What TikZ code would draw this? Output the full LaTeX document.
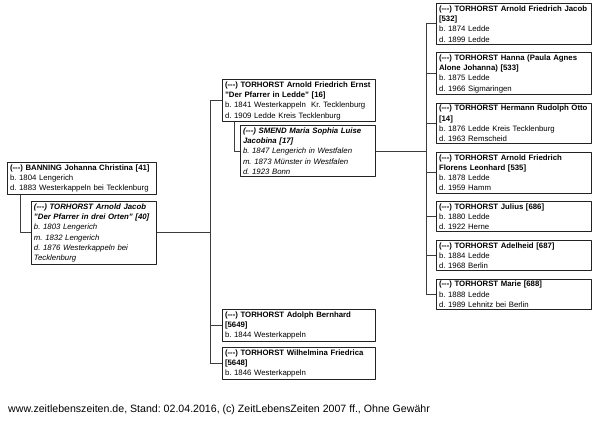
\documentclass[tikz,border=0pt]{standalone}
\usepackage{fontspec}
\setmainfont{Liberation Sans}
\usepackage{xcolor}
\usepackage{tikz}
\usetikzlibrary{positioning}
\definecolor{frm}{RGB}{35,35,35}
\definecolor{lnk}{RGB}{60,60,60}
\newcommand{\unk}{(-{}-{}-)}
\frenchspacing

\begin{document}
\begin{tikzpicture}[x=1pt,y=-1pt,line join=round,
  person/.style={draw=frm,line width=1pt,anchor=north west,inner xsep=2.5pt,inner ysep=2pt,align=left,text width=#1,font=\fontsize{7.8}{10.3}\selectfont},
  spouse/.style={person=#1,font=\fontsize{7.8}{10.3}\selectfont\itshape},
  link/.style={draw=lnk,line width=0.8pt}]
  \useasboundingbox (0,0) rectangle (600,422);
  % parents
  \node[person=144pt] (banning) at (7,162) {\textbf{\unk{} BANNING Johanna Christina [41]}\\b. 1804 Lengerich\\d. 1883 Westerkappeln bei Tecklenburg};
  \node[spouse=120pt] (arnoldJ) at (31,201) {\textbf{\unk{} TORHORST Arnold Jacob}\\\textbf{"Der Pfarrer in drei Orten" [40]}\\b. 1803 Lengerich\\m. 1832 Lengerich\\d. 1876 Westerkappeln bei\\Tecklenburg};
  % children
  \node[person=148pt] (ernst) at (222,79) {\textbf{\unk{} TORHORST Arnold Friedrich Ernst}\\\textbf{"Der Pfarrer in Ledde" [16]}\\b. 1841 Westerkappeln\ \ Kr. Tecklenburg\\d. 1909 Ledde Kreis Tecklenburg};
  \node[spouse=130pt] (smend) at (240,125) {\textbf{\unk{} SMEND Maria Sophia Luise}\\\textbf{Jacobina [17]}\\b. 1847 Lengerich in Westfalen\\m. 1873 Münster in Westfalen\\d. 1923 Bonn};
  \node[person=148pt] (adolph) at (222,309) {\textbf{\unk{} TORHORST Adolph Bernhard}\\\textbf{[5649]}\\b. 1844 Westerkappeln};
  \node[person=148pt] (wilhelmina) at (222,347) {\textbf{\unk{} TORHORST Wilhelmina Friedrica}\\\textbf{[5648]}\\b. 1846 Westerkappeln};
  % grandchildren
  \node[person=150pt] (jacobG) at (436,3) {\textbf{\unk{} TORHORST Arnold Friedrich Jacob}\\\textbf{[532]}\\b. 1874 Ledde\\d. 1899 Ledde};
  \node[person=150pt,below=7.5pt of jacobG] (hanna) {\textbf{\unk{} TORHORST Hanna (Paula Agnes}\\\textbf{Alone Johanna) [533]}\\b. 1875 Ledde\\d. 1966 Sigmaringen};
  \node[person=150pt,below=7.5pt of hanna] (hermann) {\textbf{\unk{} TORHORST Hermann Rudolph Otto}\\\textbf{[14]}\\b. 1876 Ledde Kreis Tecklenburg\\d. 1963 Remscheid};
  \node[person=150pt,below=7.5pt of hermann] (florens) {\textbf{\unk{} TORHORST Arnold Friedrich}\\\textbf{Florens Leonhard [535]}\\b. 1878 Ledde\\d. 1959 Hamm};
  \node[person=150pt,below=7.5pt of florens] (julius) {\textbf{\unk{} TORHORST Julius [686]}\\b. 1880 Ledde\\d. 1922 Herne};
  \node[person=150pt,below=7.5pt of julius] (adelheid) {\textbf{\unk{} TORHORST Adelheid [687]}\\b. 1884 Ledde\\d. 1968 Berlin};
  \node[person=150pt,below=7.5pt of adelheid] (marie) {\textbf{\unk{} TORHORST Marie [688]}\\b. 1888 Ledde\\d. 1989 Lehnitz bei Berlin};
  % connectors
  \coordinate (fork1) at (210,0); \coordinate (fork2) at (426,0);
  \draw[link] ([xshift=13pt]banning.south west) |- (arnoldJ.west);
  \draw[link] ([xshift=12pt]ernst.south west) |- (smend.west);
  \draw[link] (arnoldJ.east) -- (arnoldJ.east -| fork1);
  \draw[link] (ernst.west -| fork1) -- (wilhelmina.west -| fork1);
  \foreach \k in {ernst,adolph,wilhelmina} \draw[link] (\k.west -| fork1) -- (\k.west);
  \draw[link] (smend.east) -- (smend.east -| fork2);
  \draw[link] (jacobG.west -| fork2) -- (marie.west -| fork2);
  \foreach \k in {jacobG,hanna,hermann,florens,julius,adelheid,marie} \draw[link] (\k.west -| fork2) -- (\k.west);
  \node[anchor=west,inner sep=0pt,font=\fontsize{10.6}{12}\selectfont] (footer) at (8,410) {www.zeitlebenszeiten.de, Stand: 02.04.2016, (c) ZeitLebensZeiten 2007 ff., Ohne Gewähr};
\end{tikzpicture}
\end{document}
